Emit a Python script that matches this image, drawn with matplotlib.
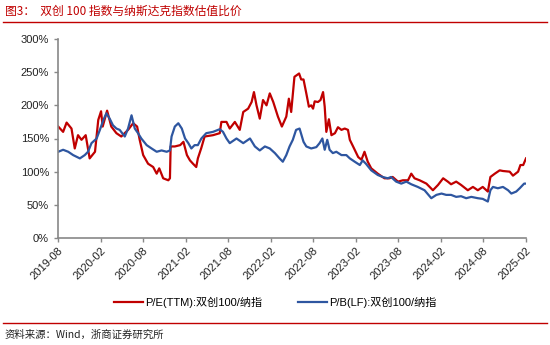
import pandas as pd
import matplotlib
matplotlib.use("Agg")
import matplotlib.pyplot as plt
import matplotlib.dates as mdates
from matplotlib.lines import Line2D
from matplotlib.ticker import FuncFormatter

plt.rcParams['font.family'] = ['Liberation Sans', 'Noto Sans CJK SC', 'DejaVu Sans']

# P/E(TTM) ratio: ChiNext-STAR 100 vs Nasdaq (%)
pe_dates = [
    "2019-08-02", "2019-08-23", "2019-09-07", "2019-09-28", "2019-10-12", "2019-10-26",
    "2019-11-10", "2019-11-28", "2019-12-15", "2020-01-07", "2020-01-21", "2020-02-02",
    "2020-02-09", "2020-02-28", "2020-03-17", "2020-04-08", "2020-04-29", "2020-05-28",
    "2020-06-19", "2020-07-06", "2020-07-17", "2020-08-01", "2020-08-22", "2020-09-13",
    "2020-09-28", "2020-10-09", "2020-10-26", "2020-11-17", "2020-11-24", "2020-11-27",
    "2020-12-15", "2021-01-07", "2021-01-21", "2021-02-05", "2021-02-18", "2021-03-03",
    "2021-03-17", "2021-03-24", "2021-04-08", "2021-04-22", "2021-05-28", "2021-06-26",
    "2021-07-03", "2021-07-25", "2021-08-08", "2021-08-30", "2021-09-20", "2021-10-05",
    "2021-10-26", "2021-11-10", "2021-11-20", "2021-12-01", "2021-12-15", "2021-12-29",
    "2022-01-13", "2022-01-27", "2022-02-11", "2022-03-03", "2022-03-20", "2022-04-08",
    "2022-04-19", "2022-04-29", "2022-05-13", "2022-06-02", "2022-06-11", "2022-06-21",
    "2022-07-03", "2022-07-14", "2022-07-24", "2022-08-01", "2022-08-08", "2022-08-22",
    "2022-09-02", "2022-09-13", "2022-09-20", "2022-09-27", "2022-10-08", "2022-10-19",
    "2022-11-03", "2022-11-16", "2022-12-01", "2022-12-15", "2022-12-29", "2023-01-06",
    "2023-01-20", "2023-02-11", "2023-02-25", "2023-03-10", "2023-03-24", "2023-04-08",
    "2023-05-06", "2023-06-04", "2023-06-25", "2023-07-09", "2023-08-01", "2023-08-22",
    "2023-09-13", "2023-09-27", "2023-10-11", "2023-11-02", "2023-12-01", "2023-12-29",
    "2024-01-20", "2024-02-11", "2024-03-02", "2024-03-16", "2024-04-07", "2024-04-28",
    "2024-05-27", "2024-06-18", "2024-07-09", "2024-07-30", "2024-08-21", "2024-09-01",
    "2024-09-20", "2024-10-11", "2024-10-25", "2024-11-23", "2024-12-07", "2024-12-29",
    "2025-01-08", "2025-01-20", "2025-02-01",
]
pe_values = [
    168, 160, 174, 165, 135, 155,
    148, 155, 120, 130, 178, 191,
    168, 192, 168, 158, 153, 163,
    173, 168, 148, 125, 112, 107,
    97, 105, 90, 87, 90, 138,
    138, 140, 145, 125, 117, 112,
    107, 120, 136, 153, 155, 158,
    175, 175, 165, 175, 163, 190,
    195, 205, 220, 200, 180, 208,
    200, 218, 205, 183, 168, 183,
    210, 190, 243, 248, 239, 239,
    218, 198, 200, 195, 206, 205,
    208, 220, 198, 160, 179, 155,
    158, 167, 163, 165, 163, 148,
    138, 122, 118, 130, 115, 105,
    97, 90, 90, 92, 85, 87,
    87, 97, 90, 87, 82, 72,
    80, 90, 85, 81, 85, 80,
    72, 77, 72, 77, 70, 92,
    97, 102, 101, 100, 94, 100,
    110, 110, 120,
]

# P/B(LF) ratio: ChiNext-STAR 100 vs Nasdaq (%)
pb_dates = [
    "2019-08-02", "2019-08-23", "2019-09-14", "2019-10-05", "2019-11-03", "2019-11-24",
    "2019-12-08", "2019-12-23", "2020-01-14", "2020-01-28", "2020-02-12", "2020-02-25",
    "2020-03-10", "2020-03-24", "2020-04-08", "2020-04-22", "2020-05-14", "2020-05-28",
    "2020-06-12", "2020-06-26", "2020-07-10", "2020-07-24", "2020-08-16", "2020-09-06",
    "2020-09-28", "2020-10-19", "2020-11-10", "2020-11-24", "2020-12-01", "2020-12-15",
    "2020-12-30", "2021-01-14", "2021-01-28", "2021-02-11", "2021-02-24", "2021-03-10",
    "2021-03-24", "2021-04-08", "2021-04-29", "2021-05-28", "2021-06-26", "2021-07-10",
    "2021-07-25", "2021-08-08", "2021-09-06", "2021-10-05", "2021-11-03", "2021-11-24",
    "2021-12-15", "2022-01-06", "2022-01-27", "2022-02-18", "2022-03-10", "2022-03-24",
    "2022-04-08", "2022-04-22", "2022-05-06", "2022-05-20", "2022-06-04", "2022-06-21",
    "2022-07-03", "2022-07-24", "2022-08-15", "2022-08-29", "2022-09-10", "2022-09-20",
    "2022-10-01", "2022-10-11", "2022-10-25", "2022-11-09", "2022-12-01", "2022-12-22",
    "2023-01-06", "2023-01-27", "2023-02-18", "2023-03-02", "2023-03-16", "2023-04-08",
    "2023-05-06", "2023-05-27", "2023-06-18", "2023-07-02", "2023-07-24", "2023-08-15",
    "2023-09-06", "2023-09-27", "2023-10-25", "2023-11-23", "2023-12-22", "2024-01-13",
    "2024-02-04", "2024-02-24", "2024-03-16", "2024-04-07", "2024-04-28", "2024-05-20",
    "2024-06-11", "2024-07-09", "2024-07-30", "2024-08-21", "2024-09-01", "2024-09-12",
    "2024-10-03", "2024-10-25", "2024-11-16", "2024-11-30", "2024-12-21", "2025-01-05",
    "2025-01-24", "2025-02-01",
]
pb_values = [
    130, 133, 130, 125, 120, 125,
    130, 143, 150, 163, 178, 188,
    180, 170, 165, 163, 153, 165,
    185, 165, 158, 150, 140, 135,
    130, 132, 130, 132, 153, 168,
    173, 165, 150, 143, 135, 140,
    140, 150, 158, 160, 164, 160,
    150, 143, 150, 143, 150, 138,
    132, 138, 135, 128, 120, 115,
    125, 138, 148, 163, 165, 145,
    138, 135, 137, 143, 150, 133,
    148, 133, 128, 130, 125, 125,
    120, 115, 110, 117, 112, 102,
    95, 92, 90, 92, 85, 82,
    85, 81, 77, 72, 60, 65,
    67, 65, 65, 62, 63, 60,
    62, 60, 59, 55, 72, 77,
    75, 77, 72, 67, 70, 75,
    82, 82,
]

RED = "#C00000"
BLUE = "#2E56A0"
GREY = "#888888"

fig = plt.figure(figsize=(5.5, 3.45), dpi=100)
ax = fig.add_axes([58 / 550, 1 - 238 / 345, 468 / 550, 199 / 345])

ax.plot(pd.to_datetime(pe_dates), pe_values, color=RED, lw=1.6,
        label="P/E(TTM):双创100/纳指")
ax.plot(pd.to_datetime(pb_dates), pb_values, color=BLUE, lw=1.6,
        label="P/B(LF):双创100/纳指")

ax.set_xlim(pd.Timestamp("2019-08-01"), pd.Timestamp("2025-02-01"))
ax.set_ylim(0, 300)
ax.set_yticks(range(0, 301, 50))
ax.yaxis.set_major_formatter(FuncFormatter(lambda v, _: f"{v:.0f}%"))
ax.xaxis.set_major_locator(mdates.MonthLocator(bymonth=[2, 8]))
ax.xaxis.set_major_formatter(mdates.DateFormatter("%Y-%m"))
for lab in ax.get_xticklabels():
    lab.set_rotation(45)
    lab.set_ha("right")
    lab.set_va("top")
    lab.set_rotation_mode("anchor")

for side in ("top", "right"):
    ax.spines[side].set_visible(False)
for side in ("left", "bottom"):
    ax.spines[side].set_color(GREY)
    ax.spines[side].set_linewidth(1.2)
ax.tick_params(axis="both", colors=GREY, labelcolor="#222222", labelsize=8,
               length=3, width=1)
ax.tick_params(axis="x", pad=2)

# legend below the x labels
fig.legend(loc="center", bbox_to_anchor=(0.5, 1 - 302 / 345), ncol=2,
           frameon=False, fontsize=8, handlelength=2.6, handletextpad=0.2,
           columnspacing=3.2)

# title and source lines
fig.text(5 / 550, 1 - 11 / 345, "图3：  双创 100 指数与纳斯达克指数估值比价",
         color=RED, fontsize=8.5, va="center", ha="left",
         family=["Noto Sans CJK SC", "DejaVu Sans"])
fig.add_artist(Line2D([3 / 550, 547 / 550], [1 - 22 / 345] * 2,
                      color=RED, lw=1.0))
fig.add_artist(Line2D([3 / 550, 547 / 550], [1 - 323 / 345] * 2,
                      color=RED, lw=1.0))
fig.text(5 / 550, 1 - 335 / 345, "资料来源：Wind，浙商证券研究所",
         color="#222222", fontsize=7.5, va="center", ha="left",
         family=["Noto Sans CJK SC", "DejaVu Sans"])

fig.savefig("out.png", dpi=100)
